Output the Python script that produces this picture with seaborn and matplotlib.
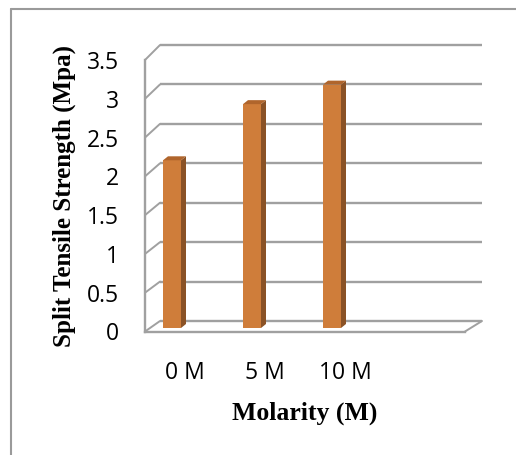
import numpy as np
import pandas as pd
import seaborn as sns
import matplotlib
matplotlib.use("Agg")
import matplotlib.pyplot as plt
from matplotlib.patches import Polygon, ConnectionPatch
from matplotlib.lines import Line2D

# ---- data ----
categories = ["0 M", "5 M", "10 M"]
strength = [2.15, 2.87, 3.12]
yticks = [0, 0.5, 1, 1.5, 2, 2.5, 3, 3.5]
ytick_labels = ["0", "0.5", "1", "1.5", "2", "2.5", "3", "3.5"]
x_title = "Molarity (M)"
y_title = "Split Tensile Strength (Mpa)"

sns.set_style("white")
plt.rcParams["font.family"] = ["Open Sans", "DejaVu Sans"]

W, H = 516, 455
fig = plt.figure(figsize=(W / 100, H / 100), dpi=100)


def rect(l, r, y0, ytop):
    return [l / W, (H - y0) / H, (r - l) / W, (y0 - ytop) / H]


GRID = "#a0a0a0"
FRONT = "#CF7D3A"
SIDE = "#8A5226"
TOP = "#B0652C"

# back wall (gridlines)
ax_back = fig.add_axes(rect(160, 482, 321, 45))
ax_back.set_xlim(0, 1)
ax_back.set_ylim(0, 3.5)
ax_back.hlines(yticks, 0, 1, colors=GRID, lw=1.7, clip_on=False)
ax_back.set_axis_off()

# front plane (axis, ticks, labels)
ax = fig.add_axes(rect(145, 465, 331.5, 60))
ax.set_facecolor("none")
ax.set_xlim(-0.5, 3.5)
ax.set_ylim(0, 3.5)
ax.set_yticks(yticks)
ax.set_yticklabels(ytick_labels)
ax.set_xticks(range(len(categories)))
ax.set_xticklabels(categories)
ax.tick_params(axis="y", length=5, width=1.2, color=GRID, pad=14,
               labelsize=16.5, labelcolor="black")
ax.tick_params(axis="x", length=0, pad=21, labelsize=16.5, labelcolor="black")
for s in ["top", "right"]:
    ax.spines[s].set_visible(False)
for s in ["left", "bottom"]:
    ax.spines[s].set_color(GRID)
    ax.spines[s].set_linewidth(1.7)

ax.set_ylabel(y_title, fontfamily="Liberation Serif", fontweight="bold",
              fontsize=18, color="black")
ax.yaxis.set_label_coords(-0.253, 0.5)
ax.yaxis.label.set_verticalalignment("center")
ax.set_xlabel(x_title, fontfamily="Liberation Serif", fontweight="bold",
              fontsize=18.5, color="black")
ax.xaxis.set_label_coords(0.5, -0.300)
ax.xaxis.label.set_verticalalignment("center")

# connectors between front axis and back wall
for v in yticks:
    cp = ConnectionPatch(xyA=(-0.5, v), coordsA=ax.transData,
                         xyB=(0, v), coordsB=ax_back.transData,
                         color=GRID, lw=1.4)
    fig.add_artist(cp)
cp = ConnectionPatch(xyA=(3.5, 0), coordsA=ax.transData,
                     xyB=(1, 0), coordsB=ax_back.transData,
                     color=GRID, lw=1.4)
fig.add_artist(cp)

# bars
ax_bar = fig.add_axes(rect(132, 452, 328, 55))
df = pd.DataFrame({"cat": categories, "val": strength})
sns.barplot(data=df, x="cat", y="val", color=FRONT, saturation=1,
            width=0.225, ax=ax_bar)
ax_bar.set_xlim(-0.5, 3.5)
ax_bar.set_ylim(0, 3.5)
ax_bar.set_axis_off()

p0 = ax_bar.transData.transform((0, 0))
p1 = ax_bar.transData.transform((1, 1))
ppx = p1[0] - p0[0]
ppy = p1[1] - p0[1]
ddx = 5 / ppx
ddy = 4 / ppy
for patch in list(ax_bar.patches):
    patch.set_edgecolor("none")
    x = patch.get_x()
    w = patch.get_width()
    h = patch.get_height()
    side = Polygon([(x + w, 0), (x + w + ddx, ddy), (x + w + ddx, h + ddy), (x + w, h)],
                   closed=True, facecolor=SIDE, edgecolor="none", clip_on=False)
    top = Polygon([(x, h), (x + w, h), (x + w + ddx, h + ddy), (x + ddx, h + ddy)],
                  closed=True, facecolor=TOP, edgecolor="none", clip_on=False)
    ax_bar.add_patch(side)
    ax_bar.add_patch(top)

# outer chart frame
fig.add_artist(Line2D([11 / W, 11 / W], [0, (H - 9) / H], transform=fig.transFigure,
                      color="#9a9a9a", lw=1.5))
fig.add_artist(Line2D([11 / W, 1], [(H - 9) / H, (H - 9) / H], transform=fig.transFigure,
                      color="#9a9a9a", lw=1.5))

fig.savefig("out.png", dpi=100)
